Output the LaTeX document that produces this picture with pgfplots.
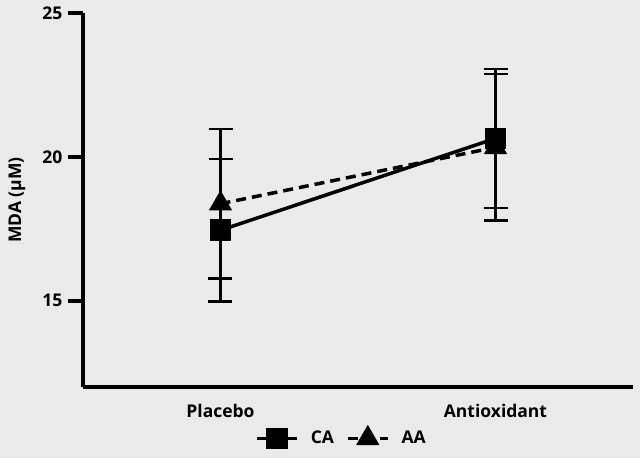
\documentclass[border=0pt]{standalone}
\usepackage{pgfplots}
\pgfplotsset{compat=1.18}
\usepackage{fontspec}
\setmainfont{Open Sans}
\definecolor{bg}{RGB}{234,234,234}
\begin{document}
\begin{tikzpicture}
\fill[bg] (-83pt,-71pt) rectangle (557pt,387pt);
\begin{axis}[
  scale only axis, width=550pt, height=374pt,
  at={(0,0)}, anchor=south west,
  xmin=-0.5, xmax=1.5, ymin=12, ymax=25,
  axis x line*=bottom, axis y line*=left,
  axis line style={line width=4pt,-},
  xtick={0,1}, xticklabels={Placebo,Antioxidant},
  ytick={15,20,25},
  tick align=outside, major tick length=15pt,
  tick style={black, line width=4pt},
  major tick style={black, line width=4pt},
  ytick style={black, line width=4pt},
  xtick style={draw=none},
  tick label style={font=\fontsize{17.5}{20}\selectfont\bfseries},
  xticklabel style={yshift=1pt},
  yticklabel style={xshift=-2pt},
  /pgf/number format/assume math mode=true,
  ylabel={MDA (µM)},
  y label style={at={(axis description cs:-0.12,0.5)},anchor=center,font=\fontsize{17.5}{20}\selectfont\bfseries},
  legend columns=2,
  legend style={draw=none, fill=none, at={(0.47,-0.136)}, anchor=center,
    font=\fontsize{17.5}{20}\selectfont\bfseries, column sep=10pt},
  legend image code/.code={\draw[#1,mark repeat=2,mark phase=2] plot coordinates {(0pt,0pt) (20pt,0pt) (40pt,0pt)};},
  clip=false,
]
\addplot[black, line width=3.5pt, mark=square*, mark size=9pt, mark options={solid},
  error bars/.cd, y dir=both, y explicit,
  error bar style={solid, line width=2.5pt},
  error mark options={rotate=90, mark size=12pt, line width=2.5pt}]
  coordinates {(0,17.45) +- (0,2.47) (1,20.64) +- (0,2.41)};
\addlegendentry{CA}
\addplot[black, line width=3.5pt, dash pattern=on 10pt off 6pt, mark=triangle*, mark size=10pt, mark options={solid},
  error bars/.cd, y dir=both, y explicit,
  error bar style={solid, line width=2.5pt},
  error mark options={rotate=90, mark size=12pt, line width=2.5pt}]
  coordinates {(0,18.37) +- (0,2.6) (1,20.33) +- (0,2.55)};
\addlegendentry{AA}
\end{axis}
\end{tikzpicture}
\end{document}
